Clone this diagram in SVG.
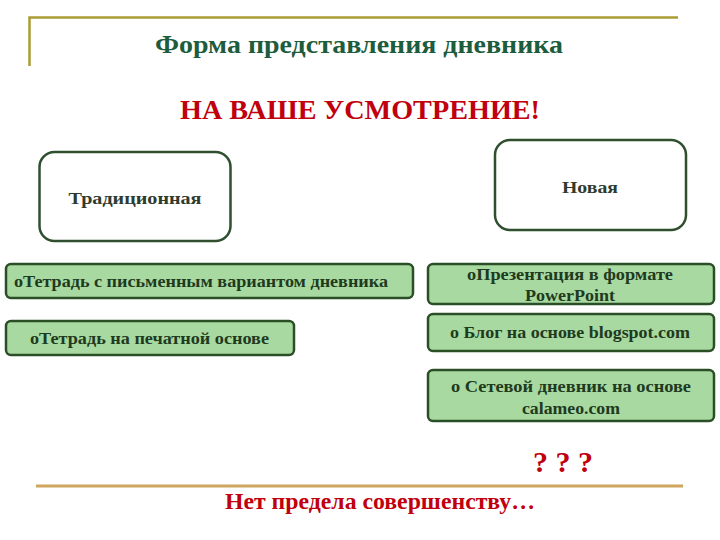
<svg xmlns="http://www.w3.org/2000/svg" width="720" height="540" viewBox="0 0 720 540" font-family="'Liberation Serif', 'Times New Roman', serif">
<style>
.head{fill:none;stroke:#2f4f2f;stroke-width:2.5}
.item{fill:#a8d9a0;stroke:#2a4f26;stroke-width:2.5}
text{font-family:'Liberation Serif','Times New Roman',serif;font-weight:bold}
.ht{font-size:17px;fill:#2e3b2e}
.it{font-size:16px;fill:#203a20}
.red{fill:#c0000c}
</style>
<rect width="720" height="540" fill="#ffffff"/>
<g id="frame">
<path d="M29.5 66 V17.5 H678" fill="none" stroke="#ab9c34" stroke-width="2.5"/>
<line x1="36" y1="486" x2="683" y2="486" stroke="#cfa660" stroke-width="3"/>
</g>
<g id="title">
<text x="359" y="53" text-anchor="middle" font-size="26" fill="#1d5c3c" textLength="408" lengthAdjust="spacingAndGlyphs">Форма представления дневника</text>
</g>
<g id="subtitle">
<text class="red" x="360" y="119" text-anchor="middle" font-size="27" textLength="360" lengthAdjust="spacingAndGlyphs">НА ВАШЕ УСМОТРЕНИЕ!</text>
</g>
<g id="traditional">
<rect class="head" x="39.5" y="152" width="191" height="89" rx="15"/>
<text class="ht" x="135" y="204" text-anchor="middle" textLength="133" lengthAdjust="spacingAndGlyphs">Традиционная</text>
</g>
<g id="new">
<rect class="head" x="495" y="140" width="191" height="90" rx="15"/>
<text class="ht" x="590" y="193" text-anchor="middle" textLength="56" lengthAdjust="spacingAndGlyphs">Новая</text>
</g>
<g id="item1">
<rect class="item" x="6" y="264" width="407" height="34" rx="5"/>
<text class="it" x="14" y="287" textLength="374" lengthAdjust="spacingAndGlyphs">оТетрадь с письменным вариантом дневника</text>
</g>
<g id="item2">
<rect class="item" x="6" y="321" width="288" height="34" rx="5"/>
<text class="it" x="30" y="344" textLength="239" lengthAdjust="spacingAndGlyphs">оТетрадь на печатной основе</text>
</g>
<g id="item3">
<rect class="item" x="428" y="264" width="286" height="40" rx="5"/>
<text class="it" x="570" y="280" text-anchor="middle" textLength="206" lengthAdjust="spacingAndGlyphs">оПрезентация в формате</text>
<text class="it" x="570" y="301" text-anchor="middle" textLength="90" lengthAdjust="spacingAndGlyphs">PowerPoint</text>
</g>
<g id="item4">
<rect class="item" x="428" y="314" width="286" height="37" rx="5"/>
<text class="it" x="570" y="338" text-anchor="middle" textLength="240" lengthAdjust="spacingAndGlyphs">о Блог на основе blogspot.com</text>
</g>
<g id="item5">
<rect class="item" x="428" y="370" width="286" height="51" rx="5"/>
<text class="it" x="571" y="392" text-anchor="middle" textLength="240" lengthAdjust="spacingAndGlyphs">о Сетевой дневник  на основе</text>
<text class="it" x="571" y="414" text-anchor="middle" textLength="98" lengthAdjust="spacingAndGlyphs">calameo.com</text>
</g>
<g id="questions">
<text class="red" x="563" y="472" text-anchor="middle" font-size="30">? ? ?</text>
</g>
<g id="footer">
<text class="red" x="380" y="509" text-anchor="middle" font-size="23" textLength="310" lengthAdjust="spacingAndGlyphs">Нет предела совершенству…</text>
</g>
</svg>
